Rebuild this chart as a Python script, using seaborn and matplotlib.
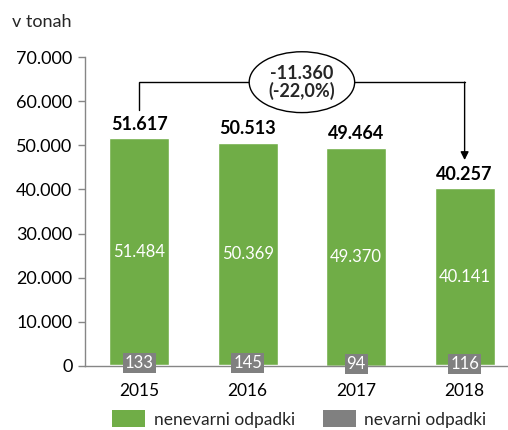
import matplotlib
matplotlib.use("Agg")
import matplotlib.pyplot as plt
import seaborn as sns
import pandas as pd
from matplotlib.ticker import FuncFormatter, MultipleLocator
from matplotlib.patches import Patch

# Waste quantities by year (tonnes)
years = ["2015", "2016", "2017", "2018"]
nonhazardous = [51484, 50369, 49370, 40141]
hazardous = [133, 145, 94, 116]
totals = [51617, 50513, 49464, 40257]
series_names = ["nenevarni odpadki", "nevarni odpadki"]
y_unit = "v tonah"

GREEN = "#70AD47"
GRAY = "#808080"
AXIS_GRAY = "#868686"


def fmt(v):
    return f"{int(round(v)):,}".replace(",", ".")


sns.set_theme(style="white")
plt.rcParams["font.family"] = ["Lato", "DejaVu Sans"]

df = pd.DataFrame({"leto": years, "skupaj": totals,
                   "nevarni": hazardous, "nenevarni": nonhazardous})

fig = plt.figure(figsize=(5.08, 4.30), dpi=100)
ax = fig.add_axes([85 / 508, 64 / 430, 423 / 508, 309 / 430])

# Full-height bars in green, hazardous share overlaid from the baseline in gray
sns.barplot(data=df, x="leto", y="skupaj", color=GREEN, saturation=1,
            width=0.553, ax=ax)
sns.barplot(data=df, x="leto", y="nevarni", color=GRAY, saturation=1,
            width=0.553, ax=ax)

ax.set_xlim(-0.5, 3.4)
ax.set_ylim(0, 70000)
ax.yaxis.set_major_locator(MultipleLocator(10000))
ax.yaxis.set_major_formatter(FuncFormatter(lambda v, p: fmt(v)))
ax.set_xlabel("")
ax.set_ylabel("")

sns.despine(ax=ax, top=True, right=True)
for side in ("left", "bottom"):
    ax.spines[side].set_color(AXIS_GRAY)
    ax.spines[side].set_linewidth(1)
ax.tick_params(axis="y", left=True, length=5, width=1, color=AXIS_GRAY,
               direction="out", labelsize=13, labelcolor="black", pad=4)
ax.tick_params(axis="x", bottom=False, labelsize=12.5, labelcolor="black", pad=6)

for i in range(len(years)):
    ax.annotate(fmt(totals[i]), (i, totals[i]), xytext=(0, 4),
                textcoords="offset points", ha="center", va="bottom",
                fontsize=13, fontweight="bold", color="black")
    ax.text(i, hazardous[i] + nonhazardous[i] / 2, fmt(nonhazardous[i]),
            ha="center", va="center", fontsize=12, color="white")
    ax.text(i, hazardous[i] / 2 + 500, fmt(hazardous[i]),
            ha="center", va="center", fontsize=12, color="white",
            bbox=dict(boxstyle="square,pad=0.12", fc=GRAY, ec="none"))

# Change bracket from first to last year
off = 6400
y_top = 64300
ax.plot([0, 0, 3], [totals[0] + off, y_top, y_top], color="black", lw=1,
        solid_joinstyle="miter")
ax.annotate("", xy=(3, totals[3] + off), xytext=(3, y_top),
            arrowprops=dict(arrowstyle="-|>", color="black", lw=1,
                            shrinkA=0, shrinkB=0, mutation_scale=12))
diff = totals[3] - totals[0]
pct = f"{diff / totals[0] * 100:.1f}".replace(".", ",")
ax.text(1.5, y_top, f"{fmt(diff)}\n({pct}%)",
        ha="center", va="center", fontsize=13, fontweight="bold",
        linespacing=1.0,
        bbox=dict(boxstyle="ellipse,pad=0.22", fc="white", ec="black", lw=1))

fig.text(12 / 508, 1 - 22 / 430, y_unit, ha="left", va="center", fontsize=13)

fig.legend(handles=[Patch(fc=GREEN, ec="none"), Patch(fc=GRAY, ec="none")],
           labels=series_names, loc="center",
           bbox_to_anchor=(0.589, 1 - 419 / 430), ncol=2, frameon=False,
           fontsize=12.5, handlelength=1.9, handleheight=1.1,
           handletextpad=0.5, columnspacing=1.6, borderpad=0.1)

fig.savefig("out.png", dpi=100)
